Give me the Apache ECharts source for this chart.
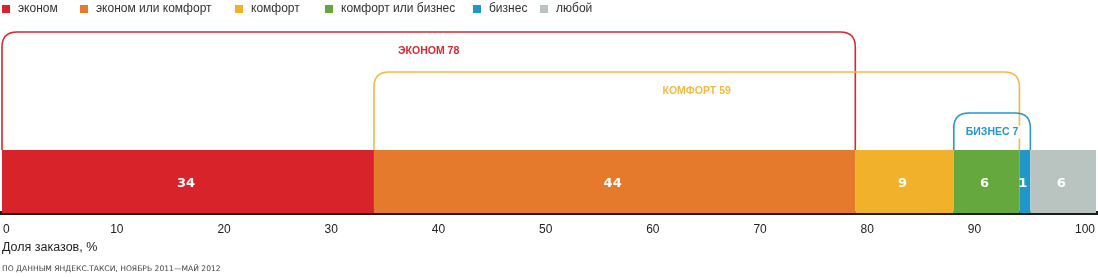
<!DOCTYPE html>
<html>
<head>
<meta charset="utf-8">
<script src="https://cdn.jsdelivr.net/npm/echarts@6/dist/echarts.min.js"></script>
<style>
html, body { margin: 0; padding: 0; background: #fff; }
#chart { width: 1098px; height: 277px; }
</style>
</head>
<body>
<div id="chart"></div>
<script>
// доли заказов по классам, %
var classNames = ['эконом', 'эконом или комфорт', 'комфорт', 'комфорт или бизнес', 'бизнес', 'любой'];
var classShares = [34, 44, 9, 6, 1, 6];
var classColors = ['#d8232a', '#e67a2c', '#f2b12a', '#64a83e', '#2196c9', '#b9c4c1'];
var legendLeft = [2, 80, 235, 325, 473, 540];

// скобки: [от, до, подпись]
var brackets = [
    [0, 78, 'ЭКОНОМ 78'],
    [34, 93, 'КОМФОРТ 59'],
    [87, 94, 'БИЗНЕС 7']
];
var bracketColors = ['#d9262f', '#f5b943', '#2597cc'];
var bracketLift = [118, 78, 37];

var tickLabels = [0, 10, 20, 30, 40, 50, 60, 70, 80, 90, 100];

var myChart = echarts.init(document.getElementById('chart'));

var series = classNames.map(function (name, i) {
    return {
        name: name,
        type: 'bar',
        stack: 'all',
        barWidth: '100%',
        itemStyle: { color: classColors[i] },
        label: {
            show: true,
            position: 'inside',
            offset: [-2, 2],
            color: '#fff',
            fontFamily: 'DejaVu Sans',
            fontWeight: 'bold',
            fontSize: 13
        },
        data: [classShares[i]]
    };
});

series.push({
    type: 'custom',
    clip: false,
    z: 5,
    renderItem: function (params, api) {
        var i = params.dataIndex;
        var x0 = api.coord([api.value(0), 0])[0];
        var x1 = api.coord([api.value(1), 0])[0];
        var base = params.coordSys.y;
        var top = base - bracketLift[i];
        var r = 15;
        var path = 'M' + x0 + ',' + base + ' L' + x0 + ',' + (top + r) +
            ' Q' + x0 + ',' + top + ' ' + (x0 + r) + ',' + top +
            ' L' + (x1 - r) + ',' + top +
            ' Q' + x1 + ',' + top + ' ' + x1 + ',' + (top + r) +
            ' L' + x1 + ',' + base;
        return {
            type: 'group',
            children: [{
                type: 'path',
                shape: { pathData: path },
                style: { stroke: bracketColors[i], lineWidth: 1.6, fill: null }
            }, {
                type: 'text',
                z2: 10,
                style: {
                    text: brackets[i][2],
                    x: (x0 + x1) / 2,
                    y: top + 19,
                    align: 'center',
                    verticalAlign: 'middle',
                    fill: bracketColors[i],
                    font: 'bold 10.5px "Liberation Sans"',
                    backgroundColor: i === 2 ? '#fff' : null,
                    padding: i === 2 ? [1, 2] : 0
                }
            }]
        };
    },
    encode: { x: [0, 1] },
    data: brackets
});

// невидимая серия для подписей оси
series.push({
    type: 'scatter',
    xAxisIndex: 1,
    yAxisIndex: 1,
    symbolSize: 0,
    silent: true,
    data: []
});

var legends = classNames.map(function (name, i) {
    return {
        data: [name],
        left: legendLeft[i],
        top: 3,
        itemWidth: 8,
        itemHeight: 8,
        icon: 'rect',
        selectedMode: false,
        padding: 0,
        textStyle: { fontFamily: 'Liberation Sans', fontSize: 12, color: '#333', padding: [0, 0, 0, 3] }
    };
});

var option = {
    animation: false,
    legend: legends,
    grid: [
        { left: 2, right: 2, top: 150, height: 63 },
        { left: 2, width: 1078, top: 150, height: 63 }
    ],
    xAxis: [{
        type: 'value',
        min: 0,
        max: 100,
        axisLine: { show: false },
        axisTick: { show: false },
        splitLine: { show: false },
        axisLabel: { show: false }
    }, {
        type: 'value',
        gridIndex: 1,
        min: 0,
        max: 100,
        interval: 10,
        axisLine: { show: false },
        axisTick: { show: false },
        splitLine: { show: false },
        axisLabel: {
            align: 'left',
            margin: 11,
            color: '#222',
            fontFamily: 'Liberation Sans',
            fontSize: 12,
            formatter: function (v) { return tickLabels.indexOf(v) >= 0 ? String(v) : ''; }
        }
    }],
    yAxis: [{
        type: 'category',
        data: ['доля'],
        show: false
    }, {
        type: 'value',
        gridIndex: 1,
        show: false
    }],
    graphic: [{
        type: 'line',
        shape: { x1: 0, y1: 213, x2: 1098, y2: 213 },
        style: { stroke: '#1c1c1c', lineWidth: 4 }
    }, {
        type: 'text',
        left: 2,
        top: 241,
        style: { text: 'Доля заказов, %', fill: '#222', font: '12.5px "Liberation Sans"' }
    }, {
        type: 'text',
        left: 2,
        top: 265,
        style: { text: 'ПО ДАННЫМ ЯНДЕКС.ТАКСИ, НОЯБРЬ 2011—МАЙ 2012', fill: '#444', font: '7.6px "DejaVu Sans"' }
    }],
    series: series
};

myChart.setOption(option);
</script>
</body>
</html>
